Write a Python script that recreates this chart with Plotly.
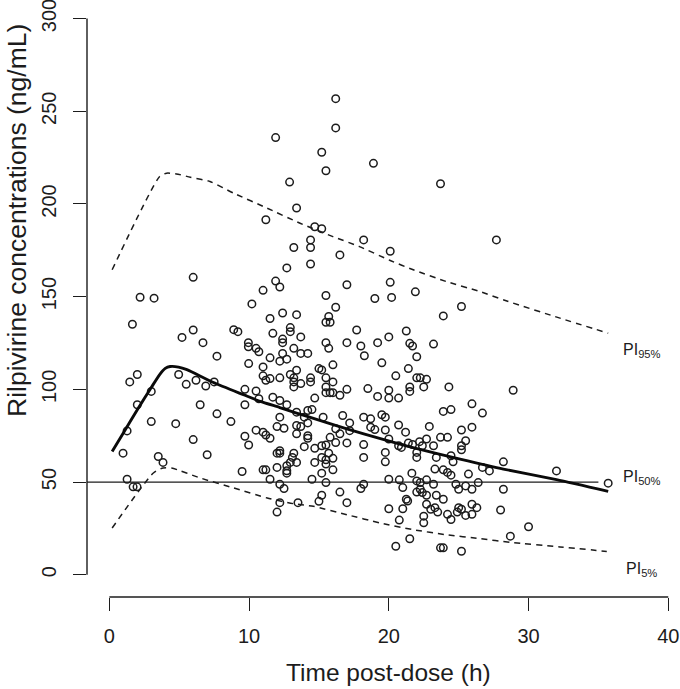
import plotly.graph_objects as go

# ---- observed concentrations (time h, conc ng/mL) ----
obs_time = [
    16.2, 16.2, 11.9, 15.2, 18.9, 15.5, 12.9, 13.4, 11.2, 14.7, 15.2, 18.2, 14.4, 13.2, 14.4, 16.5, 14.4, 12.7, 6.0, 11.9,
    12.2, 17.0, 11.0, 15.5, 20.1, 20.1, 2.2, 3.2, 19.0, 23.7, 27.7, 21.9, 20.2,
    10.2, 12.4, 13.4, 11.5, 1.65, 6.0, 8.9, 9.2, 5.2, 11.7, 12.95, 12.95, 6.7, 9.95, 9.95, 12.4, 12.4, 10.5, 10.7, 13.2,
    12.4, 7.7, 11.5, 12.2, 12.7, 9.97, 11.0, 13.4, 2.0, 1.46, 4.96, 11.0, 11.2, 11.5, 12.2, 12.95, 13.2, 13.2, 13.2, 6.2,
    5.5, 6.9, 7.5, 3.0, 9.7, 10.5, 10.7, 11.7, 12.2, 12.7, 2.0, 6.5, 9.7, 13.4, 7.7, 12.2, 3.0, 4.75, 8.7, 12.0, 12.5,
    13.4, 1.27, 10.5, 11.0, 11.2, 11.5, 13.4, 9.7, 6.0, 9.97, 12.0, 12.2, 12.2, 0.98, 3.5, 7.0, 13.1,
    3.84, 9.5, 11.0, 11.2, 12.0, 12.7, 12.7, 12.7, 12.95, 13.4, 1.27, 1.7, 1.98, 11.5, 12.2, 12.5, 12.2, 13.5, 12.0,
    25.2, 23.9, 16.2, 15.7, 15.5, 15.8, 17.7, 21.25, 13.7, 15.5, 15.7, 17.0, 18.0, 19.2, 20.0, 21.5, 21.7, 23.2, 13.7,
    14.2, 18.25, 22.0, 19.5, 16.0, 15.0, 15.2, 21.4, 13.7, 14.4, 14.4, 15.5, 15.5, 15.5, 15.8, 16.0, 16.0, 16.5, 17.0,
    18.5, 20.5, 22.0, 22.25, 22.7, 21.5, 21.5, 22.5, 20.0, 20.0, 19.2, 20.7, 24.3, 14.7, 25.95, 23.9, 24.45, 14.2, 14.5,
    13.95, 15.3, 16.7, 18.2, 18.7, 19.5, 19.75, 20.7, 17.2, 13.7, 14.2, 14.2, 14.2, 16.2, 16.5, 18.7, 19.0, 17.2, 19.75,
    22.9, 21.2, 23.7, 24.2, 25.2, 25.95, 25.2, 25.2, 25.5, 15.8, 16.2, 17.0, 18.2, 20.0, 20.7, 20.9, 21.4, 21.7, 22.4,
    23.2, 22.0, 14.7, 15.2, 15.5, 15.7, 13.95, 13.2, 19.75, 18.2, 23.4, 24.45, 15.2,
    14.7, 15.5, 15.5, 16.0, 16.0, 15.2, 14.5, 15.5, 15.2, 15.0, 16.5, 17.0, 18.0, 18.2, 19.75, 20.0, 21.0, 20.75, 21.65,
    22.0, 22.2, 22.7, 22.0, 22.25, 22.7, 23.2, 22.0, 22.25, 22.4, 22.7, 21.25, 21.35, 20.0, 21.0, 22.7, 23.0, 23.3, 23.5,
    22.5, 22.5, 20.75, 23.4, 23.9, 24.2, 24.45, 23.9, 23.3, 24.2, 24.45, 24.8, 25.0, 25.5, 24.6, 24.9, 25.2, 25.5, 25.0,
    25.7, 25.95, 25.95, 25.95, 26.3, 26.4, 21.5, 20.5, 23.7, 23.9, 25.2,
    28.2, 26.7, 27.2, 32.0, 28.2, 35.7, 28.0, 30.0, 28.7, 28.9, 26.7,
]
obs_conc = [
    256.8, 241.0, 235.8, 227.9, 221.9, 217.9, 211.8, 197.8, 191.5, 187.7, 186.6, 180.6, 180.6, 176.5, 176.5, 172.5, 167.6, 165.5, 160.4, 158.4,
    155.2, 156.4, 153.4, 150.6, 174.5, 157.7, 149.7, 149.2, 149.0, 210.9, 180.6, 152.6, 149.6,
    146.1, 141.2, 140.3, 138.2, 135.1, 132.0, 132.2, 131.1, 128.0, 130.2, 133.3, 131.1, 125.2, 125.2, 123.0, 127.1, 125.2, 122.1, 120.3, 122.1,
    119.4, 117.9, 117.0, 115.2, 116.3, 113.9, 112.1, 110.3, 108.0, 104.0, 108.0, 107.3, 104.9, 105.8, 106.2, 108.0, 106.2, 104.0, 101.3, 104.9,
    102.7, 101.8, 104.0, 98.9, 100.0, 99.1, 94.9, 95.8, 94.0, 91.7, 91.7, 91.7, 91.7, 87.7, 86.8, 85.0, 82.6, 81.5, 82.6, 79.9, 79.0,
    80.5, 77.6, 78.0, 76.9, 75.4, 73.6, 76.0, 74.7, 72.9, 70.0, 65.6, 66.9, 65.6, 65.6, 63.8, 64.7, 63.3,
    60.6, 55.7, 56.6, 56.6, 57.9, 58.8, 56.1, 54.8, 60.6, 60.6, 51.5, 47.4, 47.4, 51.5, 48.8, 46.5, 38.9, 38.9, 33.8,
    144.7, 139.6, 144.3, 139.3, 136.2, 136.2, 132.0, 131.5, 128.3, 125.2, 122.1, 125.2, 123.4, 125.2, 128.3, 124.8, 123.4, 124.4, 119.4,
    119.4, 118.1, 117.6, 114.3, 113.2, 111.2, 110.5, 111.2, 103.1, 106.2, 104.0, 106.2, 101.3, 98.2, 98.2, 98.2, 104.0, 96.8, 100.0,
    100.4, 107.3, 106.2, 106.2, 105.4, 101.3, 98.9, 101.3, 99.5, 95.3, 96.2, 95.3, 101.3, 95.3, 92.2, 88.1, 89.1, 88.6, 89.1,
    85.0, 85.0, 85.9, 85.0, 84.1, 86.3, 85.0, 80.8, 81.9, 79.9, 81.9, 75.0, 73.6, 78.7, 76.0, 79.6, 78.3, 77.7, 78.1,
    80.0, 76.9, 74.1, 74.1, 78.1, 79.6, 69.6, 67.4, 72.3, 74.1, 71.3, 71.1, 70.2, 73.2, 69.6, 68.7, 71.1, 70.2, 69.6,
    69.6, 66.0, 68.2, 69.6, 70.0, 65.6, 69.1, 65.6, 66.0, 63.3, 63.3, 64.2, 63.3,
    60.6, 62.0, 59.7, 62.8, 56.6, 54.8, 51.5, 49.7, 42.9, 39.6, 44.6, 38.9, 46.5, 48.8, 60.9, 51.5, 47.0, 51.2, 54.8,
    63.3, 71.8, 73.2, 50.6, 49.7, 51.2, 48.8, 44.6, 46.1, 44.3, 42.9, 40.7, 39.8, 35.6, 35.6, 38.0, 35.3, 36.2, 33.8,
    31.6, 28.0, 29.5, 42.9, 56.6, 55.2, 53.7, 40.7, 57.0, 32.6, 29.8, 48.8, 46.1, 47.9, 60.9, 33.8, 35.3, 32.0, 36.2,
    54.3, 46.1, 38.0, 32.6, 36.2, 49.7, 19.4, 15.4, 14.5, 14.5, 12.7,
    60.9, 57.9, 56.0, 56.0, 46.1, 49.4, 34.9, 25.9, 20.8, 99.5, 87.2,
]

# ---- prediction interval curves ----
pi50_time = [0.2, 1.0, 2.0, 3.0, 3.6, 4.0, 4.35, 4.95, 5.55, 7.45, 9.6, 10.8, 12.2, 13.4, 15.0, 17.0, 19.4, 21.8, 25.1, 28.2, 32.0, 35.7]
pi50_conc = [66.5, 76.5, 89.0, 101.0, 108.0, 111.3, 112.3, 112.0, 110.6, 103.7, 97.1, 93.5, 90.2, 87.2, 83.4, 78.7, 73.4, 68.4, 62.4, 57.0, 51.3, 45.0]

pi95_time = [0.2, 3.6, 4.1, 4.8, 5.8, 7.2, 8.9, 11.3, 13.65, 16.0, 17.9, 20.1, 21.75, 24.1, 26.5, 28.5, 32.25, 35.7]
pi95_conc = [164.5, 214.8, 216.6, 216.2, 214.4, 212.1, 205.8, 197.7, 189.6, 182.4, 177.0, 169.5, 164.5, 158.2, 152.8, 147.5, 138.4, 130.3]

pi5_time = [0.2, 3.15, 3.85, 4.45, 6.5, 8.9, 11.3, 13.2, 14.6, 17.0, 19.4, 21.75, 24.1, 26.5, 28.7, 32.25, 35.6]
pi5_conc = [25.2, 54.9, 57.6, 57.6, 52.2, 46.8, 41.4, 38.3, 36.9, 32.4, 27.9, 24.3, 21.6, 19.5, 17.5, 15.0, 12.6]

ref_time = [-1.6, 35.0]
ref_conc = [50, 50]

x_ticks = [0, 10, 20, 30, 40]
y_ticks = [0, 50, 100, 150, 200, 250, 300]

pi_labels = ["PI<sub>95%</sub>", "PI<sub>50%</sub>", "PI<sub>5%</sub>"]
pi_label_x = [36.6, 36.6, 36.85]
pi_label_y = [121.0, 52.2, 2.8]

FONT = "Liberation Sans, Arial, Helvetica, sans-serif"
INK = "#1c1c1c"

fig = go.Figure()
fig.add_trace(go.Scatter(x=obs_time, y=obs_conc, mode="markers",
                         marker=dict(symbol="circle-open", size=7.5, color=INK, line=dict(width=1.5, color=INK)),
                         hoverinfo="x+y", showlegend=False))
fig.add_trace(go.Scatter(x=ref_time, y=ref_conc, mode="lines", line=dict(color=INK, width=1.3), showlegend=False))
fig.add_trace(go.Scatter(x=pi95_time, y=pi95_conc, mode="lines",
                         line=dict(color=INK, width=1.5, dash="6px,5px", shape="spline", smoothing=0.6), showlegend=False))
fig.add_trace(go.Scatter(x=pi5_time, y=pi5_conc, mode="lines",
                         line=dict(color=INK, width=1.5, dash="6px,5px", shape="spline", smoothing=0.6), showlegend=False))
fig.add_trace(go.Scatter(x=pi50_time, y=pi50_conc, mode="lines",
                         line=dict(color="#0a0a0a", width=2.9, shape="spline", smoothing=0.6), showlegend=False))

for t, xx, yy in zip(pi_labels, pi_label_x, pi_label_y):
    fig.add_annotation(x=xx, y=yy, xref="x", yref="y", text=t, showarrow=False,
                       xanchor="left", yanchor="middle", font=dict(family=FONT, size=16, color=INK))

# R-style detached axis lines
fig.add_shape(type="line", xref="x", yref="paper", x0=x_ticks[0], x1=x_ticks[-1], y0=0, y1=0,
              line=dict(color=INK, width=1.4))
fig.add_shape(type="line", xref="paper", yref="y", x0=0, x1=0, y0=y_ticks[0], y1=y_ticks[-1],
              line=dict(color=INK, width=1.4))

fig.add_annotation(x=20, y=-0.126, xref="x", yref="paper", text="Time post-dose (h)", showarrow=False,
                   xanchor="center", yanchor="middle", font=dict(family=FONT, size=24.5, color=INK))
fig.add_annotation(x=-0.118, y=0.630, xref="paper", yref="paper", text="Rilpivirine concentrations (ng/mL)",
                   showarrow=False, textangle=-90, xanchor="center", yanchor="middle",
                   font=dict(family=FONT, size=26.5, color=INK))

fig.update_layout(
    width=680, height=689,
    margin=dict(l=87, r=0, t=0, b=92, autoexpand=False),
    paper_bgcolor="white", plot_bgcolor="white",
    font=dict(family=FONT, color=INK),
    xaxis=dict(range=[-1.6, 40.84], tickvals=x_ticks, ticks="outside", ticklen=13, tickwidth=1.4,
               tickcolor=INK, showline=False, showgrid=False, zeroline=False, automargin=False,
               ticklabeloverflow="allow",
               tickfont=dict(family=FONT, size=20, color=INK), ticklabelstandoff=8),
    yaxis=dict(range=[-12, 310], tickvals=y_ticks, ticks="outside", ticklen=13, tickwidth=1.4,
               tickcolor=INK, showline=False, showgrid=False, zeroline=False, tickangle=-90,
               automargin=False, ticklabeloverflow="allow",
               tickfont=dict(family=FONT, size=20, color=INK), ticklabelstandoff=9),
)

fig.write_html("out.html", config={"displayModeBar": False},
               post_script="document.body.style.margin='0';document.body.style.overflow='hidden';")
